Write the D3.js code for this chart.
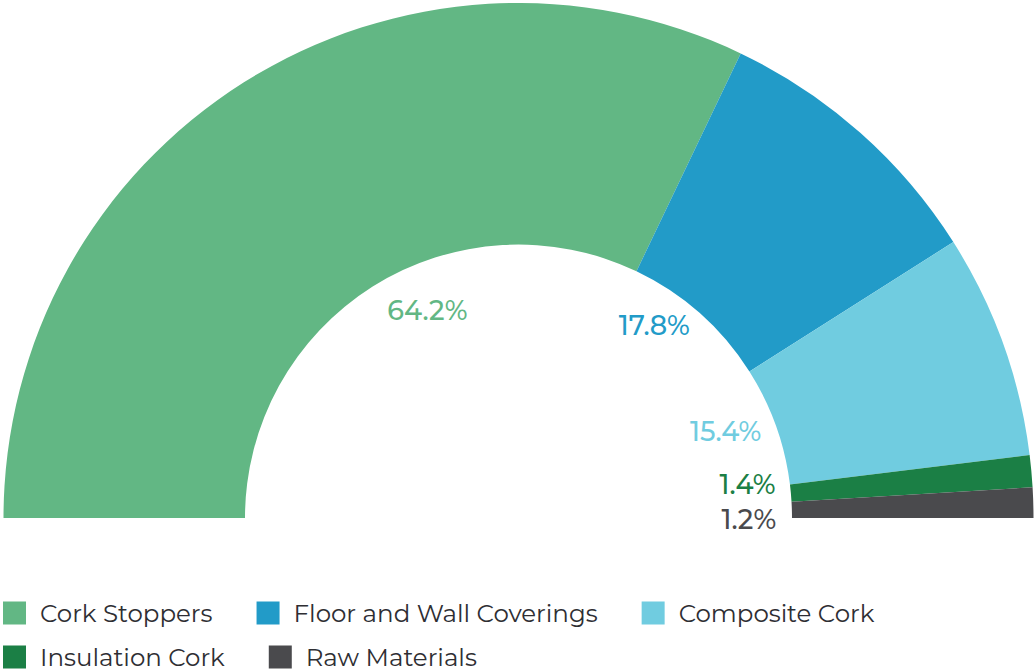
<!DOCTYPE html>
<html><head><meta charset="utf-8">
<script src="https://cdn.jsdelivr.net/npm/d3@7"></script>
<style>html,body{margin:0;padding:0;background:#fff;}svg{display:block;}</style>
</head><body>
<svg id="c" width="1034" height="672"></svg>
<script>
const categories = ["Cork Stoppers", "Floor and Wall Coverings", "Composite Cork", "Insulation Cork", "Raw Materials"];
// printed shares
const labels = ["64.2%", "17.8%", "15.4%", "1.4%", "1.2%"];
// shares as the slices are actually drawn in the picture (small slices enlarged)
const drawnShares = [64.2, 17.8, 14.1, 2.0, 1.9];
const colors = ["#62b784", "#229bc8", "#70cce0", "#1b7f45", "#4a4a4d"];
const legendRows = [[0, 1, 2], [3, 4]];

const svg = d3.select("#c");
const cx = 518.5, cy = 518, rOuter = 515, rInner = 273.5;
const font = "Montserrat, 'Open Sans', Lato, sans-serif";

const data = categories.map((c, i) => ({ name: c, value: drawnShares[i], label: labels[i], color: colors[i] }));
const pie = d3.pie().value(d => d.value).sort(null).startAngle(-Math.PI / 2).endAngle(Math.PI / 2);
const arcs = pie(data);
const arc = d3.arc().innerRadius(rInner).outerRadius(rOuter);

const g = svg.append("g").attr("transform", `translate(${cx},${cy})`);
g.selectAll("path").data(arcs).join("path").attr("d", arc).attr("fill", d => d.data.color);

// labels inside the hole, along each slice's mid angle
const pos = arcs.map(a => {
  const m = (a.startAngle + a.endAngle) / 2;
  const left = m < 0;
  const r = left ? 246 : 258;
  return { a, m, left, x: r * Math.sin(m), y: -r * Math.cos(m) };
});
const right = pos.filter(p => !p.left).sort((p, q) => q.y - p.y);
right[0].y = Math.max(right[0].y, 1);
for (let i = 1; i < right.length; i++) right[i].y = Math.min(right[i].y, right[i - 1].y - 35);

g.selectAll("text.lbl").data(pos).join("text").attr("class", "lbl")
  .attr("x", p => p.x).attr("y", p => p.y)
  .attr("dy", "0.36em")
  .attr("text-anchor", p => p.left ? "start" : "end")
  .attr("fill", p => p.a.data.color)
  .style("font-family", font).style("font-size", "27px").style("font-weight", 500)
  .text(p => p.a.data.label);

// legend
const lg = svg.append("g");
const rowY = [613, 657], sw = 23, gap = 44;
legendRows.forEach((row, ri) => {
  let x = 3;
  row.forEach(idx => {
    const it = lg.append("g").attr("transform", `translate(${x},${rowY[ri]})`);
    it.append("rect").attr("x", 0).attr("y", -sw / 2).attr("width", sw).attr("height", sw).attr("fill", colors[idx]);
    const t = it.append("text").attr("x", 37).attr("dy", "0.36em")
      .attr("fill", "#2e2e33").style("font-family", font).style("font-size", "24.5px")
      .text(categories[idx]);
    x += 37 + t.node().getComputedTextLength() + gap;
  });
});
</script>
</body></html>
